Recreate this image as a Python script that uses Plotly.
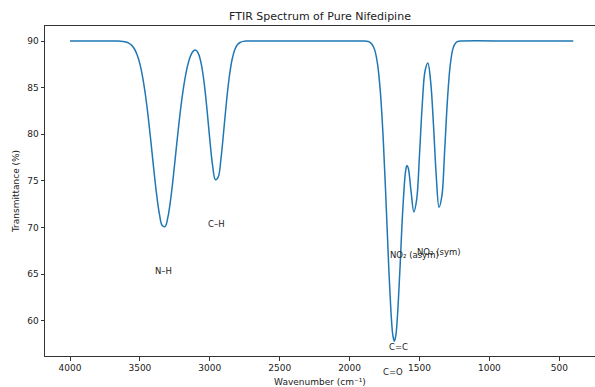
import plotly.graph_objects as go

# Spectrum points (wavenumber cm^-1, transmittance %)
wavenumber = [
    4000, 3800, 3740, 3700, 3660, 3640, 3620, 3600, 3580, 3560, 3540, 3520, 3500, 3480,
    3460, 3440, 3420, 3400, 3380, 3360, 3340, 3320, 3300, 3280, 3260, 3240, 3220, 3200,
    3180, 3160, 3140, 3120, 3100, 3080, 3060, 3040, 3020, 3000, 2980, 2960, 2940, 2920,
    2900, 2880, 2860, 2840, 2820, 2800, 2780, 2760, 2740, 2720, 2300,
    1900, 1880, 1860, 1840, 1820, 1800, 1780, 1760, 1740, 1720, 1700, 1690, 1680, 1670,
    1660, 1640, 1620, 1600, 1590, 1580, 1560, 1540, 1520, 1500, 1480, 1460, 1440, 1420,
    1400, 1380, 1360, 1340, 1320, 1300, 1280, 1260, 1240, 1220, 1200, 800, 400,
]
transmittance = [
    90.0, 90.0, 90.0, 90.0, 89.99, 89.98, 89.95, 89.89, 89.78, 89.56, 89.17, 88.53, 87.54, 86.11,
    84.18, 81.78, 79.02, 76.15, 73.49, 71.40, 70.20, 70.09, 71.08, 73.01, 75.59, 78.45, 81.25, 83.74,
    85.76, 87.28, 88.31, 88.89, 89.02, 88.60, 87.46, 85.46, 82.65, 79.45, 76.65, 75.12, 75.40, 77.39,
    80.41, 83.59, 86.22, 88.04, 89.11, 89.64, 89.87, 89.96, 89.99, 90.0, 90.0,
    89.99, 89.97, 89.90, 89.66, 89.02, 87.52, 84.57, 79.69, 73.03, 65.78, 60.01, 58.37, 57.79, 58.34,
    59.94, 65.44, 71.75, 75.96, 76.65, 76.36, 73.81, 71.67, 73.01, 77.78, 83.22, 86.81, 87.64, 85.62,
    81.03, 75.50, 72.16, 73.35, 78.22, 83.68, 87.43, 89.21, 89.82, 89.97, 90.0, 90.0, 90.0,
]

# Peak labels
label_text = ["N–H", "C–H", "C=O", "C=C", "NO₂ (asym)", "NO₂ (sym)"]
label_x = [3330, 2955, 1690, 1652, 1536, 1357]
label_y = [65.35, 70.35, 54.46, 57.14, 67.0, 67.35]

x_ticks = [4000, 3500, 3000, 2500, 2000, 1500, 1000, 500]
y_ticks = [60, 65, 70, 75, 80, 85, 90]

Y_RANGE = [56.21, 91.61]
FONT = "DejaVu Sans"
TXT = "#222222"

fig = go.Figure()
fig.add_trace(go.Scatter(
    x=wavenumber, y=transmittance, mode="lines",
    line=dict(color="#1f77b4", width=1.5, shape="spline", smoothing=1.0),
    showlegend=False, hoverinfo="skip",
))

for t, x, y in zip(label_text, label_x, label_y):
    if Y_RANGE[0] <= y <= Y_RANGE[1]:
        fig.add_annotation(x=x, y=y, text=t, showarrow=False, xanchor="center", yanchor="middle",
                           font=dict(family=FONT, size=8.5, color=TXT))
    else:
        # label sits below the axes: place it in paper coordinates so it is not hidden
        fig.add_annotation(x=x, y=(y - Y_RANGE[0]) / (Y_RANGE[1] - Y_RANGE[0]), yref="paper",
                           text=t, showarrow=False, xanchor="center", yanchor="middle",
                           font=dict(family=FONT, size=8.5, color=TXT))

fig.update_layout(
    width=595, height=387,
    margin=dict(l=45, r=0, t=26, b=31),
    paper_bgcolor="white", plot_bgcolor="white",
    font=dict(family=FONT, size=9, color=TXT),
    title=dict(text="FTIR Spectrum of Pure Nifedipine", x=0.5, xref="paper", xanchor="center",
               y=1 - 16.5 / 387, yref="container", yanchor="middle",
               font=dict(family=FONT, size=11, color=TXT)),
)
fig.update_xaxes(
    range=[4178.8, 244.5], tickvals=x_ticks, ticktext=[str(v) for v in x_ticks],
    showgrid=False, zeroline=False, showline=True, linecolor="#333333", linewidth=1,
    mirror=True, ticks="outside", ticklen=3.5, tickcolor="#333333", tickwidth=1,
    tickfont=dict(family=FONT, size=9, color=TXT),
    title=dict(text="Wavenumber (cm⁻¹)", font=dict(family=FONT, size=9, color=TXT), standoff=6),
)
fig.update_yaxes(
    range=Y_RANGE, tickvals=y_ticks, ticktext=[str(v) for v in y_ticks],
    showgrid=False, zeroline=False, showline=True, linecolor="#333333", linewidth=1,
    mirror=False, ticks="outside", ticklen=3.5, tickcolor="#333333", tickwidth=1,
    tickfont=dict(family=FONT, size=9, color=TXT),
    title=dict(text="Transmittance (%)", font=dict(family=FONT, size=9, color=TXT), standoff=6),
)

fig.write_html("out.html")
